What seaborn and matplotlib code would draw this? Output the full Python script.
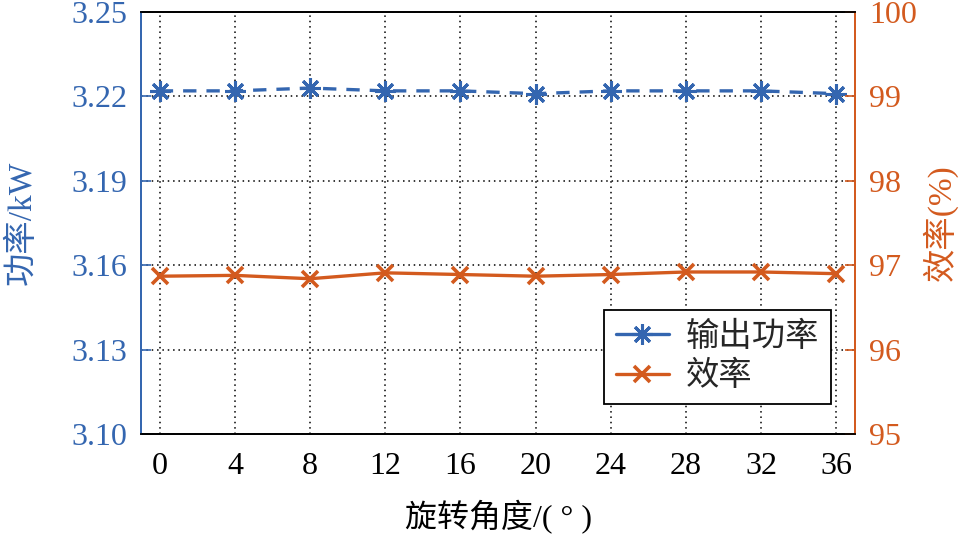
import matplotlib
matplotlib.use("Agg")
import matplotlib.pyplot as plt
from matplotlib.lines import Line2D
import seaborn as sns
import pandas as pd

angles = [0, 4, 8, 12, 16, 20, 24, 28, 32, 36]
power_kw = [3.222, 3.222, 3.223, 3.222, 3.222, 3.221, 3.222, 3.222, 3.222, 3.221]
efficiency = [96.87, 96.88, 96.84, 96.91, 96.89, 96.87, 96.89, 96.92, 96.92, 96.90]
left_ticks = [3.10, 3.13, 3.16, 3.19, 3.22, 3.25]
right_ticks = [95, 96, 97, 98, 99, 100]

sns.set_theme(style="white")
plt.rcParams['font.family'] = ['Liberation Serif', 'Noto Sans CJK SC']
plt.rcParams['axes.unicode_minus'] = False

BLUE = "#3466B0"
ORANGE = "#D35A1E"

df = pd.DataFrame({"angle": angles, "power": power_kw, "eff": efficiency})

fig = plt.figure(figsize=(9.65, 5.34), dpi=100)
ax = fig.add_axes([0.1461, 0.1873, 0.740, 0.790])
ax2 = ax.twinx()

star = (8, 2, 0)
sns.lineplot(data=df, x="angle", y="power", ax=ax, color=BLUE, linestyle=(0, (4, 3)),
             linewidth=2.4, marker=star, markersize=15, markeredgewidth=2.2,
             markeredgecolor=BLUE, legend=False)
sns.lineplot(data=df, x="angle", y="eff", ax=ax2, color=ORANGE, linewidth=2.4,
             marker="x", markersize=11, markeredgewidth=2.6, markeredgecolor=ORANGE,
             legend=False)

ax.set_xlim(-1, 37)
ax.set_ylim(3.10, 3.25)
ax2.set_ylim(95, 100)
ax.set_xticks(angles)
ax.set_yticks(left_ticks)
ax.set_yticklabels([f"{v:.2f}" for v in left_ticks])
ax2.set_yticks(right_ticks)

ax.grid(True, color="black", linestyle=(0, (1, 2.5)), linewidth=1.1)
ax.set_axisbelow(True)

fs = 23
ax.tick_params(axis="x", direction="in", length=7, width=1.2, colors="black", labelsize=fs, pad=13, top=False)
ax.tick_params(axis="y", direction="in", length=7, width=1.2, colors=BLUE, labelsize=fs, pad=10)
ax2.tick_params(axis="y", direction="in", length=7, width=1.2, colors=ORANGE, labelsize=fs, pad=10)

for a in (ax, ax2):
    for s in a.spines.values():
        s.set_linewidth(1.3)
        s.set_color("black")
ax.spines["left"].set_color(BLUE)
ax2.spines["left"].set_color(BLUE)
ax2.spines["right"].set_color(ORANGE)
ax.spines["right"].set_color(ORANGE)

ax.set_xlabel("旋转角度/( ° )", fontsize=23, color="black", labelpad=14)
ax.set_ylabel("功率/kW", fontsize=24, color=BLUE, labelpad=24)
ax2.set_ylabel("效率(%)", fontsize=24, color=ORANGE, labelpad=4)

handles = [
    Line2D([], [], color=BLUE, linewidth=2.4, marker=star, markersize=15,
           markeredgewidth=2.2, markeredgecolor=BLUE),
    Line2D([], [], color=ORANGE, linewidth=2.4, marker="x", markersize=11,
           markeredgewidth=2.6, markeredgecolor=ORANGE),
]
leg = ax2.legend(handles, ["输出功率", "效率"], loc="upper right", bbox_to_anchor=(0.966, 0.294),
                 fontsize=24, frameon=True, fancybox=False, framealpha=1,
                 edgecolor="black", handlelength=1.6, borderpad=0.35,
                 labelspacing=0.25, handletextpad=0.5, borderaxespad=0)
leg.get_frame().set_linewidth(1.3)

fig.savefig("out.png", dpi=100)
